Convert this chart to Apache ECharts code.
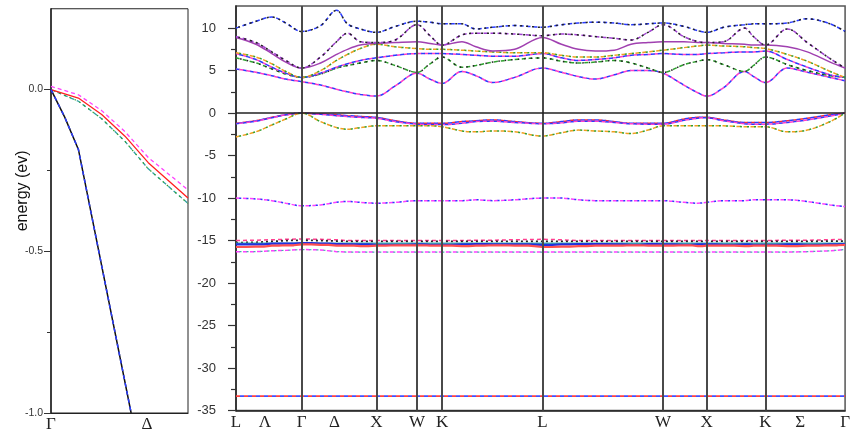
<!DOCTYPE html>
<html><head><meta charset="utf-8">
<script src="https://cdn.jsdelivr.net/npm/echarts@6/dist/echarts.min.js"></script>
<style>html,body{margin:0;padding:0;background:#fff}#c{width:853px;height:433px}</style>
</head><body><div id="c"></div>
<script>
// ---------- k-path (right panel) ----------
const kGrid = [0,20,36,50,66,85,101,112,125,141,160,182,195,207,227,241,258,280,308,327,344,361,380,397,414,429,450,464,473,490,511,520,532,554,574,597,612];
const kTickPos = [0,29,66,99,141,182,207,308,429,473,532,567,612];
const kTickLabels = ['L','Λ','Γ','Δ','X','W','K','L','W','X','K','Σ','Γ'];
const symmetryLines = [66,141,182,207,308,429,473,532];
const energyTicks = [-35,-30,-25,-20,-15,-10,-5,0,5,10];
const energyMinorTicks = [-32.5,-27.5,-22.5,-17.5,-12.5,-7.5,-2.5,2.5,7.5];

// conduction bands
const band7 = [10.0,10.8,11.3,10.6,9.6,10.3,12.1,10.5,9.9,9.5,10.2,10.8,10.7,10.5,10.5,9.9,10.1,10.3,10.1,10.4,10.6,10.7,10.6,10.4,10.5,10.6,10.2,9.7,9.5,10.1,10.4,10.5,10.5,10.6,11.1,10.5,9.6];
const band6 = [9.0,8.3,7.2,6.2,5.3,6.6,8.4,9.4,8.4,8.3,8.6,10.4,9.1,8.0,9.2,9.4,9.4,9.3,9.1,9.3,9.2,9.0,8.8,8.6,9.5,10.4,9.0,8.4,8.3,8.4,10.0,9.0,8.0,9.9,8.3,6.4,5.3];
const band5 = [8.9,8.1,7.0,6.0,5.3,5.9,6.9,7.5,8.0,8.2,8.3,8.4,8.2,8.0,8.4,7.8,7.3,7.5,8.9,8.1,7.5,7.3,7.4,8.1,8.3,8.4,8.4,8.3,8.3,8.2,8.1,8.0,8.0,7.8,7.2,6.0,5.3];
const band4 = [7.1,6.6,5.8,4.9,4.2,5.0,6.2,6.9,7.6,8.1,7.8,7.6,7.5,7.5,7.4,7.3,7.2,7.1,7.1,6.8,6.6,6.6,6.8,7.0,7.2,7.4,7.7,7.9,8.0,7.9,7.8,7.7,7.6,6.9,6.1,4.9,4.2];
const band3 = [7.0,6.3,5.4,4.7,4.2,4.7,5.4,5.8,6.2,6.5,6.8,7.0,7.0,7.0,6.9,6.8,6.7,6.7,7.0,6.5,6.2,6.3,6.5,6.8,6.9,7.0,6.9,6.9,7.0,7.1,7.2,7.2,7.3,6.3,5.4,4.5,4.2];
const band2 = [6.5,5.9,5.2,4.6,4.2,4.6,5.3,5.6,5.9,6.2,5.6,4.8,5.8,6.6,5.4,5.6,6.0,6.3,6.5,6.1,5.9,6.0,6.2,5.9,5.3,4.8,5.7,6.1,6.3,5.7,4.9,5.6,6.6,5.7,5.0,4.4,4.2];
const band1 = [5.2,4.8,4.4,4.0,3.7,3.3,2.8,2.5,2.2,2.0,3.2,4.7,4.0,3.5,4.9,4.4,3.6,4.2,5.3,4.8,4.3,4.0,4.5,5.0,5.0,4.7,3.3,2.4,2.0,3.0,4.9,4.3,3.6,5.3,4.8,4.2,3.8];
// valence bands
const val1 = [-1.2,-0.9,-0.5,-0.2,0,-0.1,-0.2,-0.3,-0.4,-0.5,-0.9,-1.2,-1.2,-1.2,-1.0,-0.9,-0.8,-1.0,-1.2,-1.0,-0.8,-0.8,-1.0,-1.2,-1.2,-1.2,-0.7,-0.5,-0.5,-0.8,-1.1,-1.1,-1.1,-0.9,-0.6,-0.2,0];
const val2 = [-1.25,-0.95,-0.55,-0.2,0,-0.15,-0.3,-0.4,-0.5,-0.6,-1.0,-1.3,-1.35,-1.35,-1.2,-1.0,-0.95,-1.1,-1.25,-1.15,-0.95,-0.95,-1.1,-1.25,-1.3,-1.3,-0.85,-0.6,-0.55,-0.9,-1.25,-1.3,-1.3,-1.1,-0.8,-0.35,0];
const val3 = [-2.8,-2.2,-1.4,-0.7,0,-1.0,-1.7,-1.9,-1.7,-1.5,-1.5,-1.5,-1.5,-1.6,-2.1,-2.2,-2.1,-2.2,-2.7,-2.3,-2.0,-2.1,-2.2,-2.4,-2.0,-1.5,-1.5,-1.5,-1.5,-1.5,-1.6,-1.6,-1.6,-2.2,-2.0,-1.0,0];
// s-like band near -10
const sBand = [-10.0,-10.1,-10.3,-10.6,-10.9,-10.8,-10.5,-10.4,-10.5,-10.6,-10.5,-10.3,-10.3,-10.3,-10.3,-10.2,-10.3,-10.2,-10.0,-10.0,-10.2,-10.3,-10.3,-10.3,-10.3,-10.3,-10.5,-10.6,-10.5,-10.3,-10.3,-10.2,-10.2,-10.2,-10.4,-10.8,-11.0];
// semicore d bands
const dBand1 = [-15.0,-14.95,-14.9,-14.85,-14.8,-14.85,-14.9,-15.0,-15.0,-15.0,-15.0,-15.0,-15.0,-15.0,-15.0,-14.95,-14.95,-14.9,-14.85,-14.9,-15.0,-15.0,-15.0,-15.0,-15.0,-15.0,-15.0,-15.0,-15.0,-15.0,-15.0,-15.0,-15.0,-14.95,-14.95,-14.9,-14.85];
const dBand2 = [-15.25,-15.2,-15.1,-15.0,-14.95,-15.0,-15.05,-15.1,-15.1,-15.1,-15.1,-15.1,-15.1,-15.1,-15.1,-15.1,-15.1,-15.1,-15.1,-15.1,-15.1,-15.1,-15.1,-15.1,-15.1,-15.1,-15.1,-15.1,-15.1,-15.1,-15.1,-15.1,-15.1,-15.1,-15.1,-15.05,-15.05];
const dBand3 = [-15.3,-15.3,-15.3,-15.3,-15.3,-15.3,-15.3,-15.3,-15.3,-15.3,-15.3,-15.3,-15.3,-15.3,-15.3,-15.3,-15.3,-15.3,-15.3,-15.3,-15.3,-15.3,-15.3,-15.3,-15.3,-15.3,-15.3,-15.3,-15.3,-15.3,-15.3,-15.3,-15.3,-15.3,-15.3,-15.3,-15.3];
const dBand4 = [-15.45,-15.45,-15.35,-15.35,-15.3,-15.35,-15.4,-15.45,-15.45,-15.5,-15.5,-15.45,-15.5,-15.5,-15.45,-15.4,-15.45,-15.45,-15.5,-15.45,-15.4,-15.4,-15.45,-15.5,-15.4,-15.45,-15.5,-15.45,-15.45,-15.5,-15.45,-15.5,-15.5,-15.45,-15.5,-15.45,-15.4];
const dBand5 = [-15.75,-15.7,-15.6,-15.55,-15.45,-15.5,-15.6,-15.6,-15.65,-15.6,-15.55,-15.55,-15.6,-15.6,-15.65,-15.6,-15.55,-15.6,-15.75,-15.7,-15.65,-15.6,-15.6,-15.55,-15.6,-15.6,-15.55,-15.65,-15.6,-15.6,-15.65,-15.6,-15.6,-15.65,-15.6,-15.55,-15.5];
const dBand6 = [-16.3,-16.3,-16.2,-16.15,-16.05,-16.1,-16.3,-16.35,-16.35,-16.35,-16.35,-16.35,-16.35,-16.35,-16.35,-16.35,-16.35,-16.35,-16.35,-16.35,-16.35,-16.35,-16.35,-16.35,-16.35,-16.35,-16.35,-16.35,-16.35,-16.35,-16.35,-16.35,-16.35,-16.35,-16.3,-16.2,-16.05];
// deep core band
const coreBand = [-33.3,-33.3,-33.3,-33.3,-33.3,-33.3,-33.3,-33.3,-33.3,-33.3,-33.3,-33.3,-33.3,-33.3,-33.3,-33.3,-33.3,-33.3,-33.3,-33.3,-33.3,-33.3,-33.3,-33.3,-33.3,-33.3,-33.3,-33.3,-33.3,-33.3,-33.3,-33.3,-33.3,-33.3,-33.3,-33.3,-33.3];

// ---------- zoom near Γ (left panel) ----------
const kZoom = [0,0.2,0.37,0.54,0.71,1.0];
const zoomTickPos = [0,0.70];
const zoomTickLabels = ['Γ','Δ'];
const heavyRed = [0,-0.026,-0.077,-0.144,-0.226,-0.335];
const heavyMag = [0.01,-0.016,-0.065,-0.13,-0.21,-0.31];
const heavyTeal = [0,-0.036,-0.09,-0.16,-0.245,-0.352];
const kLight = [0,0.1,0.2,0.585];
const lightBand = [0,-0.085,-0.185,-1.0];
const zoomTicks = [-1,-0.5,0];
const zoomMinorTicks = [-0.75,-0.25];

function pts(xs, ys){ return xs.map((x,i)=>[x, ys[i]]); }
function ser(g, xs, ys, color, width, dash, offset, extra){
  return Object.assign({
    type:'line', xAxisIndex:g, yAxisIndex:g===0?0:2, data:pts(xs,ys),
    showSymbol:false, symbol:'none', silent:true, animation:false,
    lineStyle:{color:color, width:width, type:dash||'solid', dashOffset:offset||0}
  }, extra||{});
}
const sm = {smooth:0.35};
const series = [];
const cond = [
  [band1, [['#2a3cff',[4,3],0],['#ff3fc8',[4,3],3.5]]],
  [band2, [['#2ea02e',[4,3],0],['#222',[1.5,5],2]]],
  [band3, [['#ff3fc8',[4,3],0],['#2a3cff',[4,3],3.5]]],
  [band4, [['#f0a020',[4,3],0],['#2ea02e',[2,5],3.5]]],
  [band5, [['#a040b0','solid',0]]],
  [band6, [['#a040d0',[4,3],0],['#222',[2,4],3.5]]],
  [band7, [['#2a3cff',[4,3],0],['#222',[2,4],3.5]]],
  [val1, [['#ff2a2a',[4,3],0],['#2a3cff',[4,3],3.5]]],
  [val2, [['#2a3cff',[4,3],0],['#ff3fc8',[4,3],3.5]]],
  [val3, [['#f0a020',[4,3],0],['#2ea02e',[2,5],3.5]]],
  [sBand, [['#ff40ff',[4,3],0],['#2a3cff',[2,5],3.5]]]
];
cond.forEach(([b, styles])=>styles.forEach(s=>series.push(ser(1,kGrid,b,s[0],1.5,s[1],s[2],sm))));
series.push(ser(1,kGrid,dBand1,'#ff4090',1.5,[4,3],0));
series.push(ser(1,kGrid,dBand2,'#222',1.8,[2,3],0));
series.push(ser(1,kGrid,dBand3,'#40b0b0',1.5,'solid',0));
series.push(ser(1,kGrid,dBand4,'#2030e0',2.2,'solid',0,{step:'middle'}));
series.push(ser(1,kGrid,dBand5,'#ff5050',2.2,'solid',0,{step:'middle'}));
series.push(ser(1,kGrid,dBand6,'#ff40ff',1.5,[4,3],0));
series.push(ser(1,kGrid,dBand6,'#40b0b0',1.2,[2,5],3.5));
series.push(ser(1,kGrid,coreBand,'#ff4040',1.6,[4,4],0));
series.push(ser(1,kGrid,coreBand,'#4050ff',1.6,[4,4],4));
series[0].markLine = {
  silent:true, symbol:['none','none'], animation:false,
  label:{show:false},
  lineStyle:{color:'#4a4a4a', width:2, type:'solid'},
  data: symmetryLines.map(v=>({xAxis:v})).concat([{yAxis:0, lineStyle:{color:'#222', width:1.5, type:'solid'}}])
};
series.push(ser(0,kZoom,heavyTeal,'#30a0a0',1.3,[4,3],0));
series.push(ser(0,kZoom,heavyTeal,'#2ea02e',1.2,[1.5,4],2));
series.push(ser(0,kZoom,heavyMag,'#ff40ff',1.3,[4,3],0));
series.push(ser(0,kZoom,heavyRed,'#ff2020',1.3,'solid',0));
series.push(ser(0,kLight,lightBand,'#111',1.5,'solid',0));
series.push(ser(0,kLight,lightBand,'#2a3cff',1.5,[4,4],0));

const tickLabelStyle = {fontFamily:'Liberation Sans', color:'#333'};
const kLabelStyle = {fontFamily:'Liberation Serif', fontSize:17, color:'#222'};

const option = {
  animation:false,
  backgroundColor:'#fff',
  grid:[
    {left:51, top:8.75, width:137, height:406.25, show:true, borderColor:'#222', borderWidth:1, containLabel:false},
    {left:236, top:6, width:612, height:404.6, show:true, borderColor:'#555', borderWidth:1.5, containLabel:false}
  ],
  xAxis:[
    {type:'value', gridIndex:0, min:0, max:1, position:'bottom', axisLine:{onZero:false, lineStyle:{color:'#222',width:1.2}}, axisTick:{show:false}, splitLine:{show:false},
     axisLabel:Object.assign({customValues:zoomTickPos, margin:3, formatter:v=>zoomTickLabels[zoomTickPos.indexOf(v)] ?? ''}, kLabelStyle)},
    {type:'value', gridIndex:1, min:0, max:612, position:'bottom', axisLine:{onZero:false, lineStyle:{color:'#222',width:1.5}}, axisTick:{show:false}, splitLine:{show:false},
     axisLabel:Object.assign({customValues:kTickPos, margin:3, formatter:v=>kTickLabels[kTickPos.indexOf(v)] ?? ''}, kLabelStyle)}
  ],
  yAxis:[
    {type:'value', gridIndex:0, position:'left', min:-1.0, max:0.25, splitLine:{show:false},
     axisLine:{show:true, onZero:false, lineStyle:{color:'#222',width:1.5}},
     axisTick:{show:true, customValues:zoomTicks, length:7, lineStyle:{color:'#333'}},
     axisLabel:Object.assign({customValues:zoomTicks, fontSize:10.5, margin:8, formatter:v=>v.toFixed(1)}, tickLabelStyle),
     name:'energy (ev)', nameLocation:'middle', nameGap:20, nameMoveOverlap:false,
     nameTextStyle:{fontFamily:'Liberation Sans', fontSize:16, color:'#111', padding:[0,0,0,40]}},
    {type:'value', gridIndex:0, position:'left', min:-1.0, max:0.25, splitLine:{show:false}, axisLine:{show:false, onZero:false},
     axisTick:{show:true, customValues:zoomMinorTicks, length:4, lineStyle:{color:'#333'}}, axisLabel:{show:false}},
    {type:'value', gridIndex:1, position:'left', min:-35, max:12.6, splitLine:{show:false},
     axisLine:{show:true, onZero:false, lineStyle:{color:'#222',width:1.5}},
     axisTick:{show:true, customValues:energyTicks, length:8, lineStyle:{color:'#333', width:1.2}},
     axisLabel:Object.assign({customValues:energyTicks, fontSize:13, margin:20, formatter:v=>String(v)}, tickLabelStyle)},
    {type:'value', gridIndex:1, position:'left', min:-35, max:12.6, splitLine:{show:false}, axisLine:{show:false, onZero:false},
     axisTick:{show:true, customValues:energyMinorTicks, length:5, lineStyle:{color:'#333', width:1.2}}, axisLabel:{show:false}}
  ],
  series: series
};
const chart = echarts.init(document.getElementById('c'), null, {renderer:'canvas'});
chart.setOption(option);
</script>
</body></html>
